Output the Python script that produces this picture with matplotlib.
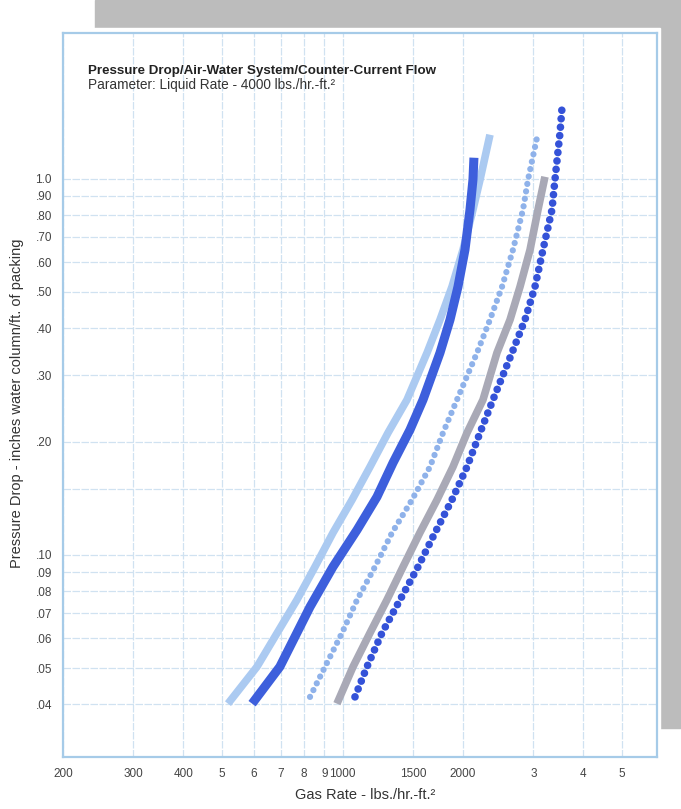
import matplotlib
matplotlib.use("Agg")
import matplotlib.pyplot as plt
from matplotlib.patches import Rectangle

plt.rcParams['font.family'] = ['Liberation Sans', 'DejaVu Sans']

# gas rate (lbs/hr-ft2) vs pressure drop (in. water / ft packing)
light_x = [517, 611, 769, 853, 946, 1056, 1171, 1299, 1449, 1626, 1752, 1877, 2000, 2118, 2206, 2336]
light_y = [0.0402, 0.0504, 0.0759, 0.0929, 0.1144, 0.1400, 0.1714, 0.2111, 0.2584, 0.3445, 0.4217, 0.5162, 0.6474, 0.827, 0.994, 1.309]

royal_x = [594, 697, 829, 946, 1087, 1219, 1337, 1474, 1589, 1752, 1856, 1943, 2023, 2082, 2118, 2130]
royal_y = [0.0402, 0.0504, 0.0727, 0.0929, 0.1165, 0.1426, 0.1757, 0.2150, 0.2584, 0.3445, 0.4217, 0.5162, 0.6474, 0.827, 0.994, 1.137]

ldot_x = [829, 904, 997, 1087, 1205, 1329, 1491, 1654, 1783, 1932, 2168, 2336, 2504, 2667, 2825, 2908, 3062]
ldot_y = [0.0419, 0.0504, 0.0620, 0.0759, 0.0929, 0.1144, 0.1400, 0.1714, 0.2111, 0.2584, 0.3445, 0.4217, 0.5162, 0.6474, 0.827, 0.994, 1.285]

gray_x = [968, 1062, 1171, 1291, 1416, 1560, 1722, 1888, 2047, 2244, 2432, 2622, 2777, 2942, 3080, 3206]
gray_y = [0.0402, 0.0504, 0.0620, 0.0759, 0.0929, 0.1144, 0.1400, 0.1714, 0.2111, 0.2584, 0.3445, 0.4217, 0.5162, 0.6474, 0.827, 1.012]

bdot_x = [1074, 1151, 1255, 1392, 1544, 1702, 1877, 2047, 2206, 2377, 2652, 2858, 3027, 3170, 3338, 3396, 3496, 3538]
bdot_y = [0.0419, 0.0504, 0.0620, 0.0759, 0.0929, 0.1144, 0.1400, 0.1714, 0.2111, 0.2584, 0.3445, 0.4217, 0.5162, 0.6474, 0.827, 0.994, 1.325, 1.554]

xticks = [200, 300, 400, 500, 600, 700, 800, 900, 1000, 1500, 2000, 3000, 4000, 5000]
xlabels = ['200', '300', '400', '5', '6', '7', '8', '9', '1000', '1500', '2000', '3', '4', '5']
yticks = [0.04, 0.05, 0.06, 0.07, 0.08, 0.09, 0.10, 0.15, 0.20, 0.30, 0.40, 0.50, 0.60, 0.70, 0.80, 0.90, 1.0]
ylabels = ['.04', '.05', '.06', '.07', '.08', '.09', '.10', '', '.20', '.30', '.40', '.50', '.60', '.70', '.80', '.90', '1.0']

W, H = 681, 809
fig = plt.figure(figsize=(W / 100, H / 100), dpi=100)

# grey shadow card and white panel behind the chart
fig.patches.append(Rectangle((95 / W, 1 - 728 / H), 1 - 95 / W, 728 / H,
                             transform=fig.transFigure, color='#bcbcbc', zorder=0))
fig.patches.append(Rectangle((58 / W, 1 - 762 / H), (660 - 58) / W, (762 - 28) / H,
                             transform=fig.transFigure, color='white', zorder=0.5))

ax = fig.add_axes([63 / W, 1 - 757 / H, (657 - 63) / W, (757 - 33) / H])
ax.set_zorder(2)
ax.set_xscale('log')
ax.set_yscale('log')
ax.set_xlim(200, 6110)
ax.set_ylim(0.029, 2.44)

ax.set_xticks(xticks)
ax.set_xticklabels(xlabels)
ax.set_yticks(yticks)
ax.set_yticklabels(ylabels)
ax.minorticks_off()
ax.tick_params(length=0, labelsize=8, colors='#444444', pad=8)
ax.tick_params(axis='x', pad=8)
for t in ax.get_xticklabels() + ax.get_yticklabels():
    t.set_family(['Liberation Sans Narrow', 'Liberation Sans'])
    t.set_fontsize(8.5)

ax.grid(True, color='#d0e2f1', linewidth=0.9, linestyle=(0, (6, 1.2)))
ax.set_axisbelow(True)
for s in ax.spines.values():
    s.set_color('#a6cbe8')
    s.set_linewidth(1.6)

ax.plot(light_x, light_y, color='#abcaf1', lw=5.5, solid_capstyle='butt', zorder=3)
ax.plot(royal_x, royal_y, color='#3d5fdc', lw=6.5, solid_capstyle='butt', zorder=4)
ax.plot(ldot_x, ldot_y, color='#8fb2ea', lw=4.5, linestyle=(0, (0.01, 1.2)),
        dash_capstyle='round', zorder=3)
ax.plot(gray_x, gray_y, color='#a9a9b6', lw=5.5, solid_capstyle='butt', zorder=3)
ax.plot(bdot_x, bdot_y, color='#3452d8', lw=5.5, linestyle=(0, (0.01, 1.1)),
        dash_capstyle='round', zorder=4)

ax.text(0.042, 0.944, 'Pressure Drop/Air-Water System/Counter-Current Flow',
        transform=ax.transAxes, fontsize=9.6, fontweight='bold', color='#222222')
ax.text(0.042, 0.922, 'Parameter: Liquid Rate - 4000 lbs./hr.-ft.²',
        transform=ax.transAxes, fontsize=9.8, color='#333333')

ax.set_xlabel('Gas Rate - lbs./hr.-ft.²', fontsize=10.5, color='#333333')
ax.xaxis.set_label_coords(0.508, -0.043)
ax.set_ylabel('Pressure Drop - inches water column/ft. of packing', fontsize=10.5,
              color='#333333')
ax.yaxis.set_label_coords(-0.066, 0.488)

fig.savefig('out.png', dpi=100)
